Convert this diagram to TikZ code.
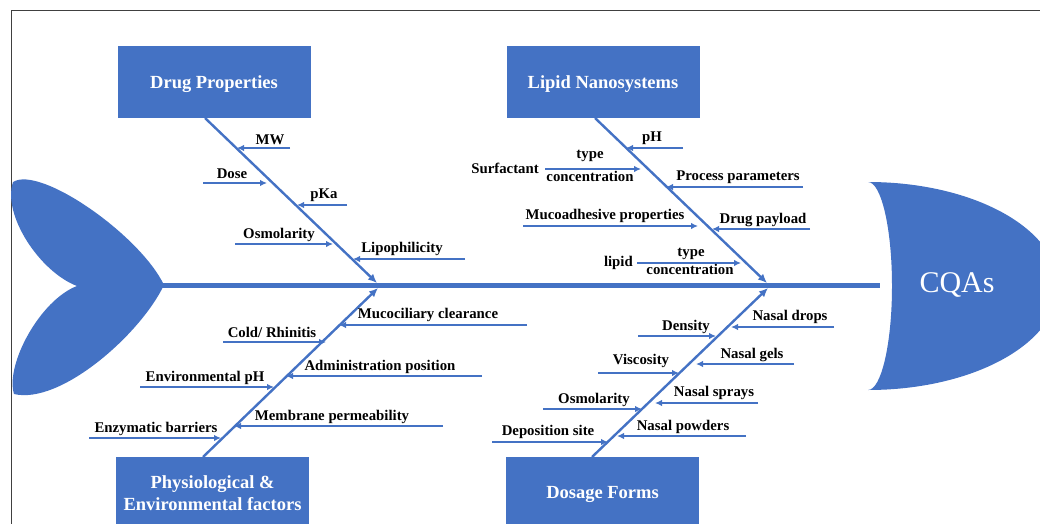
\documentclass[tikz,border=0pt]{standalone}
\usepackage{fontspec}
\setmainfont{Liberation Serif}
\usetikzlibrary{arrows.meta}
\definecolor{fb}{HTML}{4472C4}
\definecolor{fr}{HTML}{404040}
\begin{document}
\begin{tikzpicture}[x=1pt,y=-1pt,
  bone/.style={draw=fb,line width=2.4pt,-{Latex[length=9pt,width=8pt]}},
  sub/.style={draw=fb,line width=2pt,-{Latex[length=7pt,width=6.5pt]}},
  lbl/.style={font=\fontsize{14.8}{16}\selectfont\bfseries,inner sep=0pt,text=black,anchor=base},
  cat/.style={fill=fb,draw=none,inner sep=0pt,minimum width=193pt},
  cattext/.style={text=white,font=\fontsize{18.5}{22}\selectfont\bfseries,inner sep=0pt,anchor=base},
]
\useasboundingbox (0,0) rectangle (1040,524);
\clip (0,0) rectangle (1040,524);

% frame
\draw[fr,line width=1pt] (11,530) -- (11,11) -- (1045,11);

% tail
\fill[fb] (13,182) .. controls (40,165) and (140,235) .. (164,285)
  .. controls (140,335) and (60,405) .. (14,394)
  .. controls (5,365) and (40,300) .. (77,286)
  .. controls (40,272) and (2,215) .. (13,182) -- cycle;

% spine
\coordinate (sp1) at (160,285);
\coordinate (sp2) at (880,285);
\draw[fb,line width=5pt] (sp1) -- (sp2);

% head
\fill[fb] (868,182) arc[start angle=-90,end angle=90,x radius=190,y radius=104]
  arc[start angle=90,end angle=-90,x radius=24,y radius=104] -- cycle;
\node[text=white,font=\fontsize{30}{34}\selectfont,inner sep=0pt] (cqa) at (957,285) {CQAs};

% category boxes
\node[cat,minimum height=72pt] (dp) at (214,82) {};
\node[cattext] (dpt) at (214,89) {Drug Properties};
\node[cat,minimum height=72pt] (ln) at (603,82) {};
\node[cattext] (lnt) at (603,89) {Lipid Nanosystems};
\node[cat,minimum height=80pt] (pe) at (212.5,497) {};
\node[cattext] (pet1) at (212.5,488) {Physiological \&};
\node[cattext] (pet2) at (212.5,510) {Environmental factors};
\node[cat,minimum height=80pt] (df) at (602.5,497) {};
\node[cattext] (dft) at (602.5,498) {Dosage Forms};

% main bones
\coordinate (dpS) at (205,118);  \coordinate (dpE) at (377,283);
\coordinate (lnS) at (595,118);  \coordinate (lnE) at (767,283);
\coordinate (peS) at (203,457);  \coordinate (peE) at (378,288);
\coordinate (dfS) at (592,457);  \coordinate (dfE) at (768,288);
\draw[bone] (dpS) -- (dpE);
\draw[bone] (lnS) -- (lnE);
\draw[bone] (peS) -- (peE);
\draw[bone] (dfS) -- (dfE);

% Drug properties causes
\path (290,148) coordinate (mw1) (237,148) coordinate (mw2)
      (203,183) coordinate (do1) (267,183) coordinate (do2)
      (347,205) coordinate (pk1) (297,205) coordinate (pk2)
      (235,244) coordinate (os1) (333,244) coordinate (os2)
      (465,259) coordinate (li1) (353,259) coordinate (li2);
\draw[sub] (mw1) -- (mw2);
\draw[sub] (do1) -- (do2);
\draw[sub] (pk1) -- (pk2);
\draw[sub] (os1) -- (os2);
\draw[sub] (li1) -- (li2);
\node[lbl] (tmw) at (270,144) {MW};
\node[lbl] (tdo) at (232,178) {Dose};
\node[lbl] (tpk) at (324,198) {pKa};
\node[lbl] (tos) at (279,238) {Osmolarity};
\node[lbl] (tli) at (402,252) {Lipophilicity};

% Lipid nanosystems causes
\path (683,148) coordinate (ph1) (626,148) coordinate (ph2)
      (545,169) coordinate (su1) (641,169) coordinate (su2)
      (803,187) coordinate (pp1) (666,187) coordinate (pp2)
      (523,226) coordinate (mu1) (698,226) coordinate (mu2)
      (810,229) coordinate (pa1) (712,229) coordinate (pa2)
      (637,263) coordinate (lp1) (741,263) coordinate (lp2);
\draw[sub] (ph1) -- (ph2);
\draw[sub] (su1) -- (su2);
\draw[sub] (pp1) -- (pp2);
\draw[sub] (mu1) -- (mu2);
\draw[sub] (pa1) -- (pa2);
\draw[sub] (lp1) -- (lp2);
\node[lbl] (tph) at (652,141) {pH};
\node[lbl,anchor=base east] (tsu) at (539,173) {Surfactant};
\node[lbl] (tsut) at (590,158) {type};
\node[lbl] (tsuc) at (590,181) {concentration};
\node[lbl] (tpp) at (738,180) {Process parameters};
\node[lbl] (tmu) at (605,219) {Mucoadhesive properties};
\node[lbl] (tpa) at (763,223) {Drug payload};
\node[lbl,anchor=base east] (tlp) at (633,266) {lipid};
\node[lbl] (tlpt) at (691,256) {type};
\node[lbl] (tlpc) at (690,274) {concentration};

% Physiological causes
\path (527,325) coordinate (mc1) (339,325) coordinate (mc2)
      (223,342) coordinate (co1) (326,342) coordinate (co2)
      (482,376) coordinate (ad1) (286,376) coordinate (ad2)
      (140,387) coordinate (en1) (274,387) coordinate (en2)
      (443,426) coordinate (me1) (234,426) coordinate (me2)
      (89,438)  coordinate (ez1) (221,438) coordinate (ez2);
\draw[sub] (mc1) -- (mc2);
\draw[sub] (co1) -- (co2);
\draw[sub] (ad1) -- (ad2);
\draw[sub] (en1) -- (en2);
\draw[sub] (me1) -- (me2);
\draw[sub] (ez1) -- (ez2);
\node[lbl] (tmc) at (428,318) {Mucociliary clearance};
\node[lbl] (tco) at (272,337) {Cold/ Rhinitis};
\node[lbl] (tad) at (380,370) {Administration position};
\node[lbl] (ten) at (205,381) {Environmental pH};
\node[lbl] (tme) at (332,420) {Membrane permeability};
\node[lbl] (tez) at (156,432) {Enzymatic barriers};

% Dosage forms causes
\path (834,327) coordinate (nd1) (731,327) coordinate (nd2)
      (638,336) coordinate (de1) (716,336) coordinate (de2)
      (794,364) coordinate (ng1) (696,364) coordinate (ng2)
      (598,373) coordinate (vi1) (679,373) coordinate (vi2)
      (758,403) coordinate (ns1) (655,403) coordinate (ns2)
      (543,409) coordinate (om1) (642,409) coordinate (om2)
      (746,436) coordinate (np1) (617,436) coordinate (np2)
      (492,442) coordinate (ds1) (608,442) coordinate (ds2);
\draw[sub] (nd1) -- (nd2);
\draw[sub] (de1) -- (de2);
\draw[sub] (ng1) -- (ng2);
\draw[sub] (vi1) -- (vi2);
\draw[sub] (ns1) -- (ns2);
\draw[sub] (om1) -- (om2);
\draw[sub] (np1) -- (np2);
\draw[sub] (ds1) -- (ds2);
\node[lbl] (tnd) at (790,320) {Nasal drops};
\node[lbl] (tde) at (686,330) {Density};
\node[lbl] (tng) at (752,358) {Nasal gels};
\node[lbl] (tvi) at (641,364) {Viscosity};
\node[lbl] (tns) at (714,396) {Nasal sprays};
\node[lbl] (tom) at (594,403) {Osmolarity};
\node[lbl] (tnp) at (683,430) {Nasal powders};
\node[lbl] (tds) at (548,435) {Deposition site};
\end{tikzpicture}
\end{document}
